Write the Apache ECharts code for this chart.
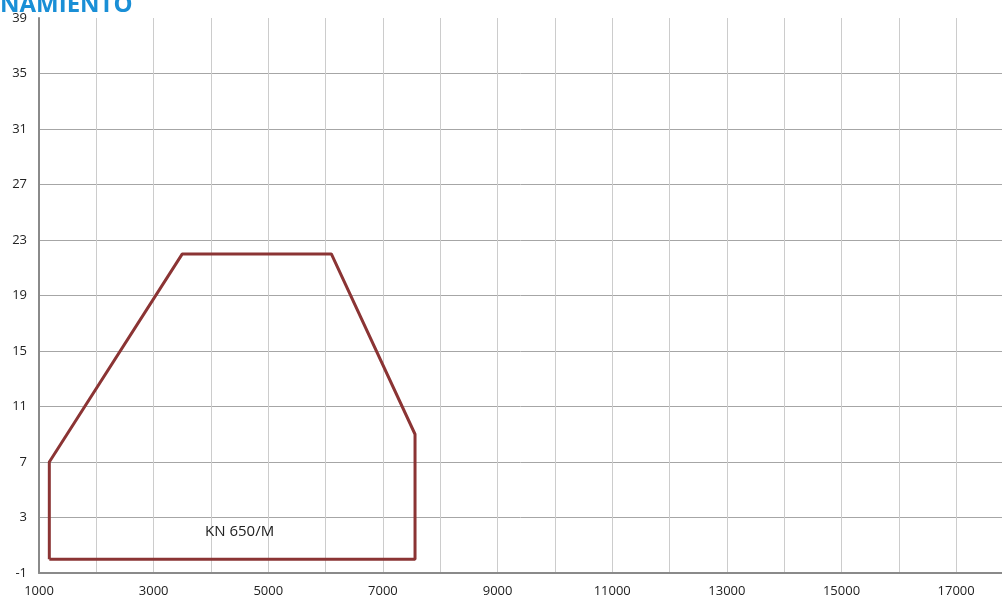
<!DOCTYPE html>
<html>
<head>
<meta charset="utf-8">
<script src="https://cdn.jsdelivr.net/npm/echarts@6/dist/echarts.min.js"></script>
<style>html,body{margin:0;padding:0;background:#fff}#c{width:1002px;height:599px}</style>
</head>
<body>
<div id="c"></div>
<script>
var titleText = 'NAMIENTO';
var seriesName = 'KN 650/M';
var envelopeX = [1180, 1180, 3500, 6100, 7560, 7560, 1180];
var envelopeY = [0, 7, 22, 22, 9, 0, 0];
var labelPoint = [4500, 2];
var xMin = 1000, xMax = 17800, xStep = 1000;
var yMin = -1, yMax = 39, yStep = 4;

var envelope = envelopeX.map(function (x, i) { return [x, envelopeY[i]]; });
var hColors = [];
for (var v = yMin; v <= yMax; v += yStep) hColors.push(v === yMax ? 'rgba(0,0,0,0)' : '#a6a6a6');

var chart = echarts.init(document.getElementById('c'));
chart.setOption({
  animation: false,
  textStyle: { fontFamily: 'Open Sans' },
  grid: { left: 39, right: 0, top: 18, bottom: 26, containLabel: false },
  graphic: [{
    type: 'text', left: 0, top: -7,
    style: { text: titleText, fill: '#1a8fd6', font: 'bold 24px "Open Sans"' }
  }],
  xAxis: {
    type: 'value', min: xMin, max: xMax, interval: xStep,
    axisLine: { show: true, onZero: false, lineStyle: { color: '#8a8a8a', width: 2 } },
    axisTick: { show: false },
    splitLine: { show: true, lineStyle: { color: '#cccccc', width: 1 } },
    axisLabel: {
      color: '#222', fontSize: 13, margin: 12, showMaxLabel: false,
      formatter: function (val) { return ((val - xMin) % 2000 === 0) ? String(val) : ''; }
    }
  },
  yAxis: {
    type: 'value', min: yMin, max: yMax, interval: yStep,
    axisLine: { show: true, onZero: false, lineStyle: { color: '#8a8a8a', width: 2 } },
    axisTick: { show: false },
    splitLine: { show: true, lineStyle: { color: hColors, width: 1 } },
    axisLabel: { color: '#222', fontSize: 13, margin: 12 }
  },
  series: [{
    type: 'line', data: envelope, symbol: 'none',
    lineStyle: { color: '#8b3434', width: 3 }, z: 3
  }, {
    type: 'scatter', data: [labelPoint], symbolSize: 0, z: 4,
    itemStyle: { opacity: 1 },
    label: { show: true, formatter: seriesName, color: '#222', fontSize: 15, position: 'inside', opacity: 1 }
  }]
});
</script>
</body>
</html>
